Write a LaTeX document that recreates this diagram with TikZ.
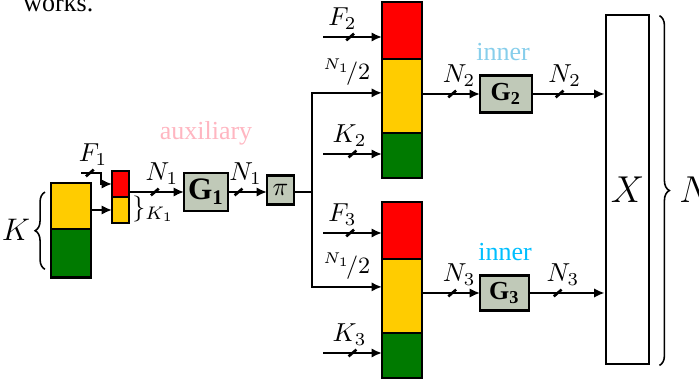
\documentclass[tikz,border=0pt]{standalone}
\usepackage{fontspec}
\setmainfont{Liberation Serif}
\usepackage{amsmath,amssymb}
\usetikzlibrary{arrows.meta,decorations.markings,decorations.pathreplacing}
\definecolor{blkred}{RGB}{255,0,0}
\definecolor{blkyellow}{RGB}{255,204,0}
\definecolor{blkgreen}{RGB}{0,122,0}
\definecolor{gbox}{RGB}{192,201,184}
\definecolor{auxpink}{RGB}{255,182,193}
\definecolor{innerblue}{RGB}{135,206,235}
\definecolor{innerdeep}{RGB}{0,191,255}

\begin{document}
\begin{tikzpicture}[x=0.3846pt, y=-0.3846pt, line width=1pt,
    blk/.style={draw, line width=1.1pt, inner sep=0pt, outer sep=0pt, anchor=north, minimum width=15.4pt},
    gbx/.style={draw, fill=gbox, line width=1.1pt, inner sep=0pt, outer sep=0pt},
    arr/.style={-{Latex[length=4pt,width=3.6pt]}},
    bus/.style={postaction={decorate, decoration={markings,
        mark=at position #1 with {\draw[-, line width=1pt] (-1.5pt,-1.3pt) -- (1.5pt,1.3pt);}}}},
    lbl/.style={font=\normalsize, inner sep=1pt, above=1.5pt},
    brc/.style={decorate, line width=0.6pt, decoration={brace, amplitude=3.8pt}}]
    \useasboundingbox (0,0) rectangle (699,381);

    % text of the page above
    \node[anchor=base west, inner sep=0pt] (cap) at (22,12) {works.};

    % K input block
    \node[blk, fill=blkyellow, minimum height=17.7pt] (kyel) at (71,183) {};
    \node[blk, fill=blkgreen, minimum height=18.5pt] (kgrn) at (kyel.south) {};
    \draw[brc] ([xshift=-2.3pt,yshift=3pt]kgrn.south west) -- ([xshift=-2.3pt,yshift=-3.5pt]kyel.north west);
    \node[font=\large] (klbl) at (16,230) {$K$};

    % auxiliary input block
    \node[blk, fill=blkred, minimum width=6.5pt, minimum height=10pt] (sred) at (120.5,171) {};
    \node[blk, fill=blkyellow, minimum width=6.5pt, minimum height=10pt] (syel) at (sred.south) {};
    \node[anchor=west, inner sep=0pt] (k1lbl) at (131,209) {$\}_{K_1}$};

    \coordinate (f1) at (81,173);
    \draw[arr, bus=0.21] (f1) -- ++(20,0) node[lbl, pos=0.6] {$F_1$} |- (sred.west);
    \draw[arr] (syel.west -| kyel.east) -- (syel.west);

    % auxiliary code
    \node[gbx, minimum width=16.9pt, minimum height=14.6pt, font=\large] (g1) at (206,192) {$\mathbf{G_1}$};
    \node[text=auxpink] (aux) at (206,133) {auxiliary};
    \node[gbx, minimum width=10.4pt, minimum height=11.2pt] (pi) at (280.5,190) {$\pi$};

    \draw[arr, bus=0.47] (sred.east |- g1.west) -- (g1.west) node[lbl, pos=0.6] {$N_1$};
    \draw[arr, bus=0.27] (g1.east) -- (g1.east -| pi.west) node[lbl, pos=0.45] {$N_1$};
    \coordinate (split) at (312,192);
    \draw (pi.east |- split) -- (split);

    % upper branch
    \node[blk, fill=blkred, minimum height=21.9pt] (red2) at (402,2) {};
    \node[blk, fill=blkyellow, minimum height=28.5pt] (yel2) at (red2.south) {};
    \node[blk, fill=blkgreen, minimum height=17.3pt] (grn2) at (yel2.south) {};

    \coordinate (f2) at (323,37);
    \coordinate (k2) at (323,154);
    \draw[arr, bus=0.46] (f2) -- (f2 -| red2.west) node[lbl, pos=0.33] {$F_2$};
    \draw[arr] (split) |- ([yshift=1.2pt]yel2.west) node[lbl, font=\small, pos=0.75] {$^{N_1}\!/2$};
    \draw[arr, bus=0.5] (k2) -- (k2 -| grn2.west) node[lbl, pos=0.45] {$K_2$};

    \node[gbx, minimum width=20pt, minimum height=14.2pt] (g2) at (506,94) {$\mathbf{G_2}$};
    \node[text=innerblue] (in2) at (503,52) {inner};
    \draw[arr, bus=0.52] (yel2.east |- g2.west) -- (g2.west) node[lbl, pos=0.64] {$N_2$};

    % lower branch
    \node[blk, fill=blkred, minimum height=21.9pt] (red3) at (402,202) {};
    \node[blk, fill=blkyellow, minimum height=28.5pt] (yel3) at (red3.south) {};
    \node[blk, fill=blkgreen, minimum height=17.3pt] (grn3) at (yel3.south) {};

    \coordinate (f3) at (323,233);
    \coordinate (k3) at (323,353);
    \draw[arr, bus=0.46] (f3) -- (f3 -| red3.west) node[lbl, pos=0.33] {$F_3$};
    \draw[arr] (split) |- ([yshift=3.5pt]yel3.west) node[lbl, font=\small, pos=0.75] {$^{N_1}\!/2$};
    \draw[arr, bus=0.5] (k3) -- (k3 -| grn3.west) node[lbl, pos=0.45] {$K_3$};

    \node[gbx, minimum width=18.8pt, minimum height=13.5pt] (g3) at (504.5,293) {$\mathbf{G_3}$};
    \node[text=innerdeep] (in3) at (505,252) {inner};
    \draw[arr, bus=0.52] (yel3.east |- g3.west) -- (g3.west) node[lbl, pos=0.64] {$N_3$};

    % combined output
    \node[draw, line width=1.1pt, inner sep=0pt, minimum width=16.5pt, minimum height=134.2pt, font=\Large] (xbox) at (627.5,189.5) {$X$};
    \draw[arr, bus=0.38] (g2.east) -- (g2.east -| xbox.west) node[lbl, pos=0.45] {$N_2$};
    \draw[arr, bus=0.38] (g3.east) -- (g3.east -| xbox.west) node[lbl, pos=0.45] {$N_3$};
    \draw[brc] ([xshift=3.5pt,yshift=-0.8pt]xbox.north east) -- ([xshift=3.5pt]xbox.south east);
    \node[anchor=west, inner sep=0pt, font=\Large] (nlbl) at (678,190) {$N$};
\end{tikzpicture}
\end{document}
